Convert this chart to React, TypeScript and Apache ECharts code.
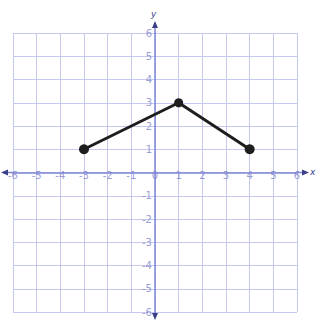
import React, { useEffect, useRef } from "react";
import * as echarts from "echarts";

const xTicks = [-6, -5, -4, -3, -2, -1, 0, 1, 2, 3, 4, 5, 6];
const yTicks = [-6, -5, -4, -3, -2, -1, 0, 1, 2, 3, 4, 5, 6];
const pathX = [-3, 1, 4];
const pathY = [1, 3, 1];

const GRID = "#c6c9ef";
const AXIS = "#7f86d6";
const LABEL = "#7d83c9";

export default function App() {
  const ref = useRef<HTMLDivElement>(null);
  useEffect(() => {
    document.body.style.margin = "0";
    const chart = echarts.init(ref.current!, null, { renderer: "svg" });
    const labelStyle = { color: LABEL, fontSize: 10, fontFamily: "DejaVu Sans" };
    const option: any = {
      animation: false,
      backgroundColor: "#ffffff",
      grid: { left: 13, right: 24, top: 33, bottom: 16, containLabel: false },
      xAxis: {
        type: "value",
        min: xTicks[0],
        max: xTicks[xTicks.length - 1],
        interval: 1,
        axisLine: { onZero: true, lineStyle: { color: AXIS, width: 1.5 } },
        axisTick: { show: false },
        axisLabel: { show: false },
        splitLine: { show: true, lineStyle: { color: GRID, width: 1 } },
      },
      yAxis: {
        type: "value",
        min: yTicks[0],
        max: yTicks[yTicks.length - 1],
        interval: 1,
        axisLine: { onZero: true, lineStyle: { color: AXIS, width: 1.5 } },
        axisTick: { show: false },
        axisLabel: { show: false },
        splitLine: { show: true, lineStyle: { color: GRID, width: 1 } },
      },
      series: [
        {
          type: "scatter",
          data: xTicks.map((x) => [x, 0]),
          symbolSize: 0,
          silent: true,
          label: {
            show: true,
            position: "bottom",
            distance: -2,
            formatter: (p: any) => String(p.value[0]),
            ...labelStyle,
          },
          z: 3,
        },
        {
          type: "scatter",
          data: yTicks.filter((y) => y !== 0).map((y) => [0, y]),
          symbolSize: 0,
          silent: true,
          label: {
            show: true,
            position: "left",
            distance: 3,
            formatter: (p: any) => String(p.value[1]),
            ...labelStyle,
          },
          z: 3,
        },
        {
          type: "line",
          data: pathX.map((x, i) => [x, pathY[i]]),
          lineStyle: { color: "#1e1e1e", width: 3 },
          itemStyle: { color: "#1e1e1e" },
          symbol: "circle",
          symbolSize: (_v: any, p: any) => (p.dataIndex === 1 ? 9 : 10),
          z: 5,
        },
      ],
    };
    chart.setOption(option);

    const o = chart.convertToPixel({ gridIndex: 0 }, [0, 0]) as number[];
    const l = chart.convertToPixel({ gridIndex: 0 }, [xTicks[0], 0]) as number[];
    const r = chart.convertToPixel({ gridIndex: 0 }, [xTicks[xTicks.length - 1], 0]) as number[];
    const t = chart.convertToPixel({ gridIndex: 0 }, [0, yTicks[yTicks.length - 1]]) as number[];
    const b = chart.convertToPixel({ gridIndex: 0 }, [0, yTicks[0]]) as number[];
    const ls = { stroke: AXIS, lineWidth: 1.5 };
    const fill = { fill: "#3a3f8a" };
    chart.setOption({
      graphic: [
        { type: "line", shape: { x1: l[0] - 8, y1: o[1], x2: l[0], y2: o[1] }, style: ls },
        { type: "line", shape: { x1: r[0], y1: o[1], x2: r[0] + 8, y2: o[1] }, style: ls },
        { type: "line", shape: { x1: o[0], y1: t[1] - 10, x2: o[0], y2: t[1] }, style: ls },
        { type: "line", shape: { x1: o[0], y1: b[1], x2: o[0], y2: b[1] + 5 }, style: ls },
        { type: "polygon", shape: { points: [[l[0] - 12, o[1]], [l[0] - 5, o[1] - 3], [l[0] - 5, o[1] + 3]] }, style: fill },
        { type: "polygon", shape: { points: [[r[0] + 12, o[1]], [r[0] + 5, o[1] - 3], [r[0] + 5, o[1] + 3]] }, style: fill },
        { type: "polygon", shape: { points: [[o[0], t[1] - 12], [o[0] - 3, t[1] - 5], [o[0] + 3, t[1] - 5]] }, style: fill },
        { type: "polygon", shape: { points: [[o[0], b[1] + 8], [o[0] - 3, b[1] + 1], [o[0] + 3, b[1] + 1]] }, style: fill },
        { type: "text", x: o[0] - 4, y: t[1] - 24, style: { text: "y", fill: "#3a3f8a", fontSize: 9, fontFamily: "DejaVu Sans", fontStyle: "italic" } },
        { type: "text", x: r[0] + 13, y: o[1] - 5, style: { text: "x", fill: "#3a3f8a", fontSize: 9, fontFamily: "DejaVu Sans", fontStyle: "italic" } },
      ],
    });
    return () => chart.dispose();
  }, []);
  return <div ref={ref} style={{ position: "fixed", left: 0, top: 0, width: 321, height: 328 }} />;
}
